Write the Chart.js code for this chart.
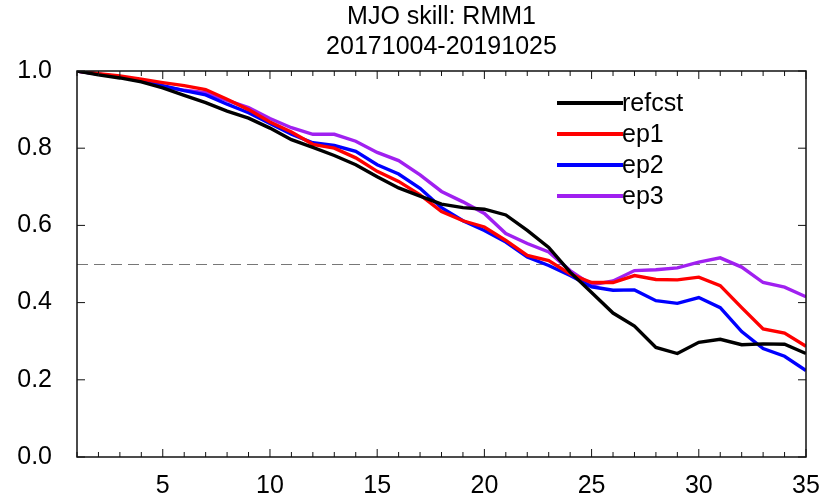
<!DOCTYPE html>
<html>
<head>
<meta charset="utf-8">
<script src="https://cdn.jsdelivr.net/npm/chart.js@4"></script>
<style>
  html, body { margin: 0; padding: 0; background: #fff; }
  #wrap { width: 823px; height: 498px; }
</style>
</head>
<body>
<div id="wrap"><canvas id="skill" width="823" height="498"></canvas></div>
<script>
// lead time in days
const leadDays = [1, 2, 3, 4, 5, 6, 7, 8, 9, 10, 11, 12, 13, 14, 15, 16, 17, 18,
                  19, 20, 21, 22, 23, 24, 25, 26, 27, 28, 29, 30, 31, 32, 33, 34, 35];
const xTicks = [5, 10, 15, 20, 25, 30, 35];
const yTicks = [0, 0.2, 0.4, 0.6, 0.8, 1.0];
const refLevel = 0.5;

const refcst = [1.0, 0.99, 0.982, 0.972, 0.956, 0.937, 0.918, 0.896, 0.878, 0.852,
                0.822, 0.802, 0.781, 0.757, 0.726, 0.697, 0.676, 0.655, 0.646, 0.642,
                0.627, 0.587, 0.543, 0.479, 0.426, 0.373, 0.339, 0.284, 0.268, 0.297,
                0.305, 0.291, 0.293, 0.292, 0.268];
const ep1 = [1.0, 0.993, 0.987, 0.979, 0.97, 0.962, 0.952, 0.927, 0.9, 0.868,
             0.842, 0.81, 0.8, 0.775, 0.74, 0.714, 0.679, 0.636, 0.612, 0.596,
             0.561, 0.522, 0.509, 0.474, 0.452, 0.452, 0.47, 0.46, 0.459, 0.466,
             0.444, 0.387, 0.332, 0.321, 0.287];
const ep2 = [1.0, 0.992, 0.984, 0.975, 0.962, 0.949, 0.938, 0.914, 0.892, 0.864,
             0.836, 0.814, 0.807, 0.792, 0.757, 0.733, 0.696, 0.646, 0.612, 0.587,
             0.557, 0.518, 0.496, 0.47, 0.441, 0.432, 0.433, 0.405, 0.398, 0.413,
             0.387, 0.325, 0.281, 0.261, 0.224];
const ep3 = [1.0, 0.992, 0.985, 0.975, 0.96, 0.95, 0.944, 0.924, 0.905, 0.877,
             0.853, 0.836, 0.836, 0.818, 0.789, 0.768, 0.731, 0.688, 0.661, 0.631,
             0.579, 0.553, 0.531, 0.483, 0.446, 0.456, 0.483, 0.485, 0.49, 0.505,
             0.516, 0.492, 0.452, 0.44, 0.415];

const FONT = "'Liberation Sans', Arial, Helvetica, sans-serif";
const FONT_SIZE = 25;

function series(label, values, color) {
    return {
        label: label,
        data: leadDays.map((d, i) => ({ x: d, y: values[i] })),
        borderColor: color,
        backgroundColor: color,
        borderWidth: 3.4,
        pointRadius: 0,
        tension: 0,
        fill: false
    };
}

// frame, inward ticks, dashed 0.5 line and the legend box
const framePlugin = {
    id: 'frame',
    beforeDatasetsDraw(chart) {
        const { ctx, chartArea: a, scales } = chart;
        const y = Math.round(scales.y.getPixelForValue(refLevel)) + 0.5;
        ctx.save();
        ctx.strokeStyle = '#777';
        ctx.lineWidth = 1;
        ctx.setLineDash([11, 6]);
        ctx.beginPath();
        ctx.moveTo(a.left, y);
        ctx.lineTo(a.right, y);
        ctx.stroke();
        ctx.restore();
    },
    afterDatasetsDraw(chart) {
        const { ctx, chartArea: a, scales } = chart;
        ctx.save();
        ctx.strokeStyle = '#111';
        ctx.lineWidth = 1.5;
        ctx.strokeRect(a.left, a.top, a.right - a.left, a.bottom - a.top);
        ctx.lineWidth = 1;
        ctx.beginPath();
        leadDays.forEach(d => {
            const px = scales.x.getPixelForValue(d);
            const len = d % 5 === 0 ? 8 : 5;
            ctx.moveTo(px, a.bottom);
            ctx.lineTo(px, a.bottom - len);
            ctx.moveTo(px, a.top);
            ctx.lineTo(px, a.top + len);
        });
        yTicks.forEach(v => {
            const py = scales.y.getPixelForValue(v);
            ctx.moveTo(a.left, py);
            ctx.lineTo(a.left + 8, py);
            ctx.moveTo(a.right, py);
            ctx.lineTo(a.right - 8, py);
        });
        ctx.stroke();

        // legend
        const x0 = 557, x1 = 623, top = 103, step = 31;
        ctx.font = FONT_SIZE + 'px ' + FONT;
        ctx.textBaseline = 'middle';
        ctx.fillStyle = '#000';
        chart.data.datasets.forEach((ds, i) => {
            const ly = top + i * step;
            ctx.strokeStyle = ds.borderColor;
            ctx.lineWidth = 4;
            ctx.beginPath();
            ctx.moveTo(x0, ly);
            ctx.lineTo(x1, ly);
            ctx.stroke();
            ctx.fillText(ds.label, x1 - 1, ly + 1);
        });
        ctx.restore();
    }
};

new Chart(document.getElementById('skill'), {
    type: 'line',
    data: {
        datasets: [
            series('refcst', refcst, '#000000'),
            series('ep1', ep1, '#ff0000'),
            series('ep2', ep2, '#0000ff'),
            series('ep3', ep3, '#a020f0')
        ]
    },
    options: {
        responsive: false,
        animation: false,
        layout: { padding: { right: 17 } },
        plugins: {
            legend: { display: false },
            tooltip: { enabled: false },
            title: {
                display: true,
                fullSize: false,
                text: ['MJO skill: RMM1', '20171004-20191025'],
                color: '#000',
                font: { family: FONT, size: FONT_SIZE, weight: 'normal', lineHeight: 1.2 },
                padding: { top: 2, bottom: 9 }
            }
        },
        scales: {
            x: {
                type: 'linear',
                min: 1,
                max: 35,
                afterBuildTicks: scale => { scale.ticks = xTicks.map(v => ({ value: v })); },
                afterFit: scale => {
                    scale.height = 41;
                    scale.paddingLeft = 0;
                    scale.paddingRight = 0;
                },
                grid: { display: false, drawTicks: false },
                border: { display: false },
                ticks: {
                    color: '#000',
                    padding: 14,
                    maxRotation: 0,
                    font: { family: FONT, size: FONT_SIZE }
                }
            },
            y: {
                min: 0,
                max: 1,
                afterBuildTicks: scale => { scale.ticks = yTicks.map(v => ({ value: v })); },
                afterFit: scale => { scale.width = 77; },
                grid: { display: false, drawTicks: false },
                border: { display: false },
                ticks: {
                    color: '#000',
                    padding: 25,
                    font: { family: FONT, size: FONT_SIZE },
                    callback: v => v.toFixed(1)
                }
            }
        }
    },
    plugins: [framePlugin]
});
</script>
</body>
</html>
